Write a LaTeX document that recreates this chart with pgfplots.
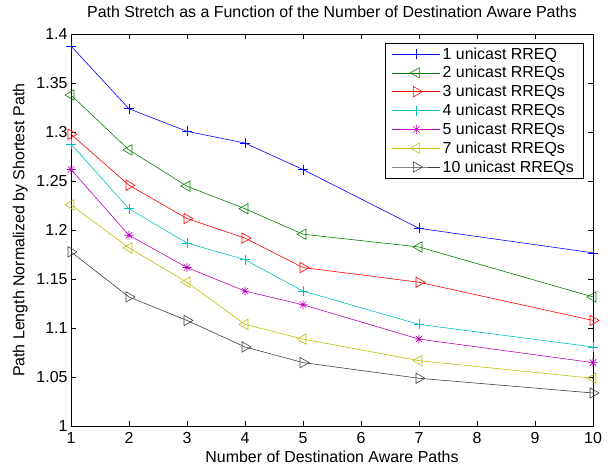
\documentclass[border=0pt]{standalone}
\usepackage{pgfplots}
\pgfplotsset{compat=1.18}
\usepackage{fontspec}
\setmainfont{Liberation Sans}
\definecolor{mblue}{rgb}{0,0,1}
\definecolor{mgreen}{rgb}{0,0.5,0}
\definecolor{mred}{rgb}{1,0,0}
\definecolor{mcyan}{rgb}{0,0.75,0.75}
\definecolor{mmag}{rgb}{0.75,0,0.75}
\definecolor{myel}{rgb}{0.75,0.75,0}
\definecolor{mgray}{rgb}{0.25,0.25,0.25}
\pgfdeclareplotmark{mstar}{%
  \pgfpathmoveto{\pgfqpoint{-\pgfplotmarksize}{0pt}}\pgfpathlineto{\pgfqpoint{\pgfplotmarksize}{0pt}}%
  \pgfpathmoveto{\pgfqpoint{0pt}{-\pgfplotmarksize}}\pgfpathlineto{\pgfqpoint{0pt}{\pgfplotmarksize}}%
  \pgfpathmoveto{\pgfqpoint{-0.707\pgfplotmarksize}{-0.707\pgfplotmarksize}}\pgfpathlineto{\pgfqpoint{0.707\pgfplotmarksize}{0.707\pgfplotmarksize}}%
  \pgfpathmoveto{\pgfqpoint{-0.707\pgfplotmarksize}{0.707\pgfplotmarksize}}\pgfpathlineto{\pgfqpoint{0.707\pgfplotmarksize}{-0.707\pgfplotmarksize}}%
  \pgfusepathqstroke}
\begin{document}
\begin{tikzpicture}
\begin{axis}[
  scale only axis,
  width=522bp, height=392bp,
  xmin=1, xmax=10, ymin=1, ymax=1.4,
  xtick={1,2,...,10},
  ytick={1,1.05,1.1,1.15,1.2,1.25,1.3,1.35,1.4},
  yticklabel style={/pgf/number format/fixed,/pgf/number format/precision=2},
  /pgf/number format/assume math mode=true,
  tick align=inside,
  major tick length=5bp,
  tick style={black, line width=0.6pt},
  axis line style={line width=0.8pt},
  ticklabel style={font=\fontsize{16}{18}\selectfont},
  xticklabel style={yshift=-2.5bp},
  title={Path Stretch as a Function of the Number of Destination Aware Paths},
  title style={font=\fontsize{16}{18}\selectfont, at={(axis description cs:0.5,1)}, anchor=base, yshift=11bp},
  xlabel={Number of Destination Aware Paths},
  ylabel={Path Length Normalized by Shortest Path},
  label style={font=\fontsize{16}{18}\selectfont},
  xlabel style={at={(axis description cs:0.5,0)}, anchor=base, yshift=-36.5bp, inner sep=0pt, text depth=0pt},
  ylabel style={at={(axis description cs:-0.0891,0.5)}, anchor=base},
  legend style={at={(axis description cs:1,1)}, anchor=north east, xshift=-10bp, yshift=-8.5bp,
    font=\fontsize{16}{18}\selectfont, row sep=1.8bp, inner xsep=7bp, inner ysep=2.5bp},
  legend cell align=left,
  legend image code/.code={\draw[mark repeat=2,mark phase=2] plot coordinates {(0bp,0bp) (24bp,0bp) (48bp,0bp)};},
  every axis plot/.append style={line width=0.6pt, mark size=6bp, mark options={solid, line width=0.6pt}},
]
\addplot[color=mblue, mark=+, mark size=5bp] coordinates {(1,1.388) (2,1.324) (3,1.301) (4,1.289) (5,1.262) (7,1.202) (10,1.177)};
\addlegendentry{1 unicast RREQ}
\addplot[color=mgreen, mark=triangle, mark options={rotate=90}] coordinates {(1,1.338) (2,1.282) (3,1.245) (4,1.222) (5,1.196) (7,1.183) (10,1.132)};
\addlegendentry{2 unicast RREQs}
\addplot[color=mred, mark=triangle, mark options={rotate=-90}] coordinates {(1,1.298) (2,1.246) (3,1.212) (4,1.192) (5,1.162) (7,1.147) (10,1.108)};
\addlegendentry{3 unicast RREQs}
\addplot[color=mcyan, mark=+, mark size=5bp] coordinates {(1,1.288) (2,1.222) (3,1.187) (4,1.170) (5,1.138) (7,1.104) (10,1.081)};
\addlegendentry{4 unicast RREQs}
\addplot[color=mmag, mark=mstar, mark size=4.5bp] coordinates {(1,1.262) (2,1.195) (3,1.162) (4,1.138) (5,1.124) (7,1.089) (10,1.065)};
\addlegendentry{5 unicast RREQs}
\addplot[color=myel, mark=triangle, mark options={rotate=90}] coordinates {(1,1.226) (2,1.182) (3,1.147) (4,1.104) (5,1.089) (7,1.067) (10,1.049)};
\addlegendentry{7 unicast RREQs}
\addplot[color=mgray, mark=triangle, mark options={rotate=-90}] coordinates {(1,1.178) (2,1.132) (3,1.108) (4,1.081) (5,1.065) (7,1.049) (10,1.034)};
\addlegendentry{10 unicast RREQs}
\end{axis}
\pgfresetboundingbox
\path ([shift={(-71bp,-39bp)}]current axis.south west) rectangle ([shift={(15bp,34.3bp)}]current axis.north east);
\end{tikzpicture}
\end{document}
